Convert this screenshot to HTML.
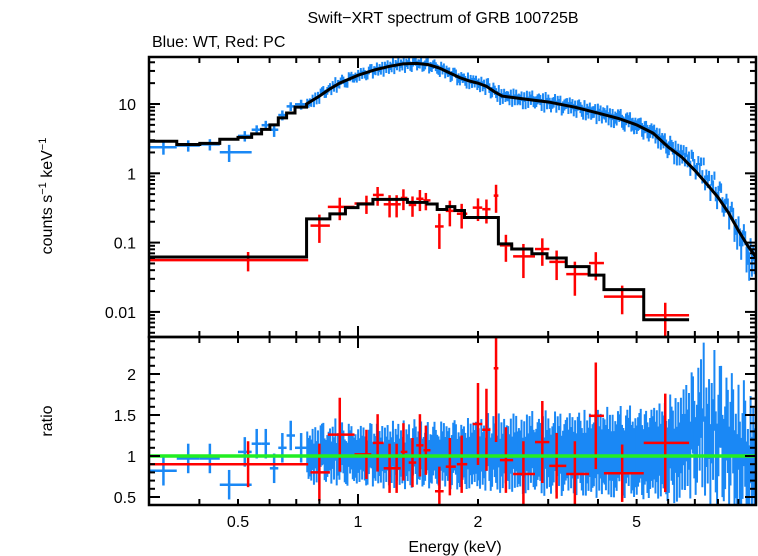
<!DOCTYPE html>
<html><head><meta charset="utf-8"><style>
html,body{margin:0;padding:0;background:#fff}
svg{display:block;font-family:"Liberation Sans",sans-serif}
</style></head><body>
<svg id="chart" width="758" height="556" viewBox="0 0 758 556" xmlns="http://www.w3.org/2000/svg">
<defs>
<clipPath id="clipTop"><rect x="149" y="57" width="607" height="280"/></clipPath>
<clipPath id="clipBot"><rect x="149" y="337" width="607" height="168"/></clipPath>
</defs>
<text x="443" y="23" font-size="16" text-anchor="middle">Swift−XRT spectrum of GRB 100725B</text>
<text x="152" y="47" font-size="16">Blue: WT, Red: PC</text>
<text transform="translate(52,196) rotate(-90)" font-size="16" text-anchor="middle">counts s<tspan font-size="11" dy="-6">−1</tspan><tspan dy="6"> keV</tspan><tspan font-size="11" dy="-6">−1</tspan></text>
<text transform="translate(52,421) rotate(-90)" font-size="16" text-anchor="middle">ratio</text>
<text x="455" y="552" font-size="16" text-anchor="middle">Energy (keV)</text>
<g id="gTop" clip-path="url(#clipTop)"></g>
<g id="gBot" clip-path="url(#clipBot)"></g>
<g id="gAxes"></g>
</svg>
<script>
// ---- data ----
const wtModelStepEdges = [0.3,0.351,0.401,0.45,0.50,0.541,0.573,0.601,0.631,0.662,0.695,0.743];
const wtModelStepValues = [2.9,2.6,2.7,3.1,3.3,3.7,4.3,5.0,6.3,7.4,9.0];
const wtModelCurveE = [0.743,0.8,0.85,0.9,1.0,1.1,1.2,1.3,1.4,1.5,1.6,1.7,1.8,1.9,2.0,2.1,2.2,2.3,2.5,2.7,3.0,3.5,4.0,4.5,5.0,5.5,6.0,6.5,7.0,7.5,8.0,8.5,9.0,9.5,10];
const wtModelCurveV = [10,13,16.5,20,26,31,35,38,38.5,37,33,28,24,21.5,20,18,15,13,12.2,11.5,10.7,9,7.4,6.2,5.0,3.8,2.4,1.7,1.1,0.7,0.45,0.27,0.15,0.09,0.06];
const pcModelEdges = [0.3,0.743,0.85,0.93,1.0,1.09,1.33,1.49,1.58,1.67,1.75,1.85,2.25,2.43,2.73,2.98,3.33,3.8,4.14,5.21,6.77];
const pcModelValues = [0.062,0.22,0.26,0.32,0.36,0.42,0.38,0.36,0.30,0.33,0.29,0.23,0.096,0.081,0.069,0.06,0.045,0.034,0.021,0.0077];
const wtLowE = [0.325,0.375,0.425,0.475,0.52,0.557,0.587,0.616,0.646,0.678,0.72];
const wtLowLo = [0.3,0.351,0.401,0.45,0.50,0.541,0.573,0.601,0.631,0.662,0.695];
const wtLowHi = [0.351,0.401,0.45,0.541,0.541,0.573,0.601,0.631,0.662,0.695,0.743];
const wtLowRatio = [0.82,0.97,0.97,0.65,1.05,1.15,1.15,0.85,1.1,1.25,1.1];
const wtDenseRatioA = [1.05,0.95,1.1,0.9,1.15,1.0,0.92,1.2,0.97,1.05,0.9,1.1,
1.0,0.95,1.08,0.92,1.12,0.97,1.03,0.88,1.1,0.95,1.05,0.93,1.15,0.98,0.9,1.07,1.0,0.94,1.12,0.96,1.02,0.9,1.1,1.0,0.95,1.08,0.93,1.05,1.15,0.97,
1.1,0.92,1.05,1.2,0.95,1.0,0.88,1.12,1.03,0.9,1.15,0.97,1.08,0.93,1.2,0.98,1.05,0.87,1.1,1.0,0.92,1.15,1.02,0.95,1.1,0.9,1.05,1.18,0.96,1.0,0.88,1.12,1.05,0.93,1.1,0.98,1.2,0.9,1.05,1.0,0.95,1.15,1.08,0.92,
1.05,1.12,0.95,1.2,1.0,1.1,0.9,1.25,1.05,1.3,1.5,1.15,1.7,1.0,1.45,1.2,0.9,1.6,1.1,0.85,1.3,0.75,0.7,1.15,0.6,1.05];
const wtDenseRatioB = [0.97,1.08,0.93,1.12,0.96,1.04,1.1,0.9,1.06,0.94,1.13,0.98,
0.93,1.1,0.97,1.05,0.9,1.12,0.95,1.07,0.92,1.15,0.98,1.03,0.88,1.1,1.05,0.94,1.13,0.99,0.9,1.06,0.96,1.12,0.93,1.04,1.1,0.9,1.07,0.97,0.92,1.09,
0.95,1.13,0.9,1.02,1.16,0.92,1.08,1.0,0.93,1.18,0.96,1.1,0.89,1.14,0.97,1.06,0.9,1.2,0.98,1.04,1.12,0.88,1.07,1.15,0.92,1.1,0.96,0.9,1.13,1.02,1.17,0.93,0.98,1.1,0.9,1.14,0.97,1.08,1.2,0.92,1.05,0.95,1.12,1.03,
1.15,0.92,1.1,0.98,1.3,0.88,1.2,1.05,1.4,0.95,1.2,1.6,1.1,1.35,0.9,1.8,1.25,1.0,1.45,1.15,0.8,1.35,1.0,0.65,1.2,0.8];
const wtDenseRatioC = [1.0,0.9,1.06,1.14,0.94,1.08,0.97,1.02,1.15,0.92,1.05,0.96,
1.06,0.98,0.91,1.13,1.0,0.94,1.09,0.96,1.02,0.89,1.11,0.95,1.04,0.93,1.16,1.01,0.92,1.08,0.97,1.12,0.94,1.0,1.06,0.9,1.13,0.98,1.02,0.91,1.08,1.0,
1.02,0.97,1.14,0.9,1.07,1.19,0.94,1.04,1.12,0.95,1.0,0.88,1.16,1.02,0.94,1.1,1.13,0.96,0.9,1.18,1.0,0.94,1.1,0.98,1.06,1.15,0.9,1.05,0.95,1.12,0.97,1.07,1.2,0.9,1.02,1.1,0.93,1.15,0.96,1.04,1.1,0.9,0.98,1.13,
0.98,1.2,1.05,0.9,1.15,1.25,0.95,1.35,1.1,1.55,1.0,1.3,1.9,1.15,1.4,1.05,1.6,0.95,1.3,1.5,1.0,0.9,1.4,0.8,0.7,1.1];
const pcE = [0.53,0.80,0.90,1.05,1.12,1.20,1.25,1.30,1.37,1.43,1.48,1.60,1.70,1.82,2.00,2.10,2.22,2.35,2.60,2.90,3.15,3.50,3.95,4.60,5.90];
const pcLo = [0.3,0.76,0.84,0.98,1.09,1.16,1.22,1.28,1.34,1.40,1.46,1.56,1.66,1.77,1.94,2.05,2.19,2.27,2.45,2.78,3.02,3.33,3.8,4.14,5.21];
const pcHi = [0.75,0.85,0.98,1.08,1.16,1.23,1.28,1.33,1.40,1.46,1.52,1.64,1.76,1.88,2.05,2.15,2.25,2.45,2.78,3.02,3.33,3.8,4.14,5.21,6.77];
const pcRatio = [0.90,0.80,1.26,1.02,1.16,0.85,0.85,1.05,0.92,1.13,1.07,0.57,0.87,0.90,1.39,1.32,2.07,0.95,0.78,1.17,0.88,0.78,1.49,0.79,1.16];
const pcErr = [0.28,0.35,0.45,0.3,0.35,0.3,0.3,0.35,0.3,0.38,0.3,0.3,0.35,0.35,0.5,0.5,0.9,0.4,0.4,0.5,0.4,0.4,0.65,0.35,0.6];
const xTickLabels = ["0.5","1","2","5"];
const xTickValues = [0.5,1,2,5];
const yTopLabels = ["10","1","0.1","0.01"];
const yTopValues = [10,1,0.1,0.01];
const yBotLabels = ["2","1.5","1","0.5"];
const yBotValues = [2,1.5,1,0.5];

// ---- scales ----
const X0=149,X1=756,T0=57,T1=337,B1=505;
function xs(e){return 358+398.6*Math.log10(e);}
function yt(v){return 104-69.3*Math.log10(v/10);}
function yr(r){return 456-82*(r-1);}
const NS="http://www.w3.org/2000/svg";
function mk(tag,attrs,parent){const el=document.createElementNS(NS,tag);for(const k in attrs)el.setAttribute(k,attrs[k]);parent.appendChild(el);return el;}
const gTop=document.getElementById('gTop'),gBot=document.getElementById('gBot'),gAx=document.getElementById('gAxes');
const BLUE="#1a88f5",RED="#ff0000";
function interp(xa,ya,e){
  if(e<=xa[0])return ya[0];
  for(let i=1;i<xa.length;i++){if(e<=xa[i]){const t=(Math.log(e)-Math.log(xa[i-1]))/(Math.log(xa[i])-Math.log(xa[i-1]));return Math.exp(Math.log(ya[i-1])+t*(Math.log(ya[i])-Math.log(ya[i-1])));}}
  return ya[ya.length-1];
}
function wtModel(e){
  if(e<wtModelStepEdges[wtModelStepEdges.length-1]){for(let i=0;i<wtModelStepValues.length;i++){if(e<wtModelStepEdges[i+1])return wtModelStepValues[i];}}
  return interp(wtModelCurveE,wtModelCurveV,e);
}
function pcModel(e){for(let i=0;i<pcModelValues.length;i++){if(e<pcModelEdges[i+1])return pcModelValues[i];}return pcModelValues[pcModelValues.length-1];}
function cross(g,x0,x1,xc,y,ylo,yhi,col,w){
  const grp=mk('g',{},g);
  mk('line',{x1:x0,x2:x1,y1:y,y2:y,stroke:col,'stroke-width':w},grp);
  mk('line',{x1:xc,x2:xc,y1:ylo,y2:yhi,stroke:col,'stroke-width':w},grp);
  return grp;
}

// ---- blue WT data ----
function wtErr(e){return 0.1+0.09*Math.sqrt(e);}
for(let i=0;i<wtLowE.length;i++){
  const e=wtLowE[i],r=wtLowRatio[i],m=wtModel(e),er=0.18;
  const g1=cross(gTop,xs(wtLowLo[i]),xs(wtLowHi[i]),xs(e),yt(m*r),yt(m*(r-er)),yt(m*(r+er)),BLUE,2.5);
  
  
  const g2=cross(gBot,xs(wtLowLo[i]),xs(wtLowHi[i]),xs(e),yr(r),yr(r-er),yr(r+er),BLUE,2.5);
  
  
}
const N=wtDenseRatioA.length,la=Math.log10(0.743),lb=Math.log10(10);
const subs=[wtDenseRatioA,wtDenseRatioB,wtDenseRatioC];
for(let i=0;i<N;i++){
  for(let s=0;s<3;s++){
    const f0=(i*3+s)/(N*3),f1=(i*3+s+1)/(N*3);
    const lo=Math.pow(10,la+(lb-la)*f0),hi=Math.pow(10,la+(lb-la)*f1),e=Math.sqrt(lo*hi);
    const r=subs[s][i],m=wtModel(e),er=wtErr(e);
    const g1=cross(gTop,xs(lo),xs(hi),xs(e),yt(m*r),yt(m*Math.max(r-er*0.7,0.05)),yt(m*(r+er*0.7)),BLUE,2);
    
    
    const g2=cross(gBot,xs(lo),xs(hi),xs(e),yr(r),yr(r-er*1.4),yr(r+er*1.4),BLUE,2);
    
    
  }
}

// ---- models ----
let d="";
for(let i=0;i<wtModelStepValues.length;i++){
  const y=yt(wtModelStepValues[i]);
  d+=(i===0?"M":"L")+xs(wtModelStepEdges[i])+","+y+" L"+xs(wtModelStepEdges[i+1])+","+y+" ";
}
for(let i=0;i<wtModelCurveE.length;i++)d+="L"+xs(wtModelCurveE[i])+","+yt(wtModelCurveV[i])+" ";
const wm=mk('path',{d:d,fill:'none',stroke:'#000','stroke-width':3},gTop);



// ---- red PC data ----
for(let i=0;i<pcE.length;i++){
  const e=pcE[i],r=pcRatio[i],m=pcModel(e),er=pcErr[i];
  const g1=cross(gTop,xs(pcLo[i]),xs(pcHi[i]),xs(e),yt(m*r),yt(m*Math.max(r-er,0.05)),yt(m*(r+er)),RED,2.5);
  
  
  const g2=cross(gBot,xs(pcLo[i]),xs(pcHi[i]),xs(e),yr(r),yr(r-er),yr(r+er),RED,2.5);
  
  
}
d="";
for(let i=0;i<pcModelValues.length;i++){
  const y=yt(pcModelValues[i]);
  d+=(i===0?"M":"L")+xs(pcModelEdges[i])+","+y+" L"+xs(pcModelEdges[i+1])+","+y+" ";
}
const pm=mk('path',{d:d,fill:'none',stroke:'#000','stroke-width':3},gTop);



const gl=mk('line',{x1:X0,x2:X1,y1:yr(1),y2:yr(1),stroke:'#22ee22','stroke-width':3.5},gBot);



// ---- axes ----
function tick(x1,y1,x2,y2){mk('line',{x1:x1,y1:y1,x2:x2,y2:y2,stroke:'#000','stroke-width':2},gAx);}
const xt=[0.3,0.4,0.5,0.6,0.7,0.8,0.9,1,2,3,4,5,6,7,8,9,10];
xt.forEach(v=>{
  const x=xs(v),L=(v===1||v===10)?11:6;
  if(x<X0+1||x>X1-1)return;
  tick(x,T0,x,T0+L);tick(x,T1,x,T1-L);tick(x,T1,x,T1+L);tick(x,B1,x,B1-L);
});
for(let dec=-3;dec<=1;dec++)for(let k=1;k<=9;k++){
  const v=k*Math.pow(10,dec),y=yt(v);
  if(y<T0+1||y>T1-1)continue;
  const L=k===1?11:6;
  tick(X0,y,X0+L,y);tick(X1,y,X1-L,y);
}
for(let k=4;k<=24;k++){
  const v=k/10,y=yr(v);
  if(y<T1+1||y>B1-1)continue;
  const L=(k%5===0)?11:6;
  tick(X0,y,X0+L,y);tick(X1,y,X1-L,y);
}
const fr1=mk('rect',{x:X0,y:T0,width:X1-X0,height:T1-T0,fill:'none',stroke:'#000','stroke-width':2.5},gAx);


const fr2=mk('rect',{x:X0,y:T1,width:X1-X0,height:B1-T1,fill:'none',stroke:'#000','stroke-width':2.5},gAx);


xTickValues.forEach((v,i)=>{
  const t=mk('text',{x:xs(v),y:527,'font-size':16,'text-anchor':'middle'},gAx);t.textContent=xTickLabels[i];
  
  
});
yTopValues.forEach((v,i)=>{
  const t=mk('text',{x:136,y:yt(v)+6,'font-size':16,'text-anchor':'end'},gAx);t.textContent=yTopLabels[i];
  
  
});
yBotValues.forEach((v,i)=>{
  const t=mk('text',{x:136,y:yr(v)+6,'font-size':16,'text-anchor':'end'},gAx);t.textContent=yBotLabels[i];
  
  
});
</script>
</body></html>
